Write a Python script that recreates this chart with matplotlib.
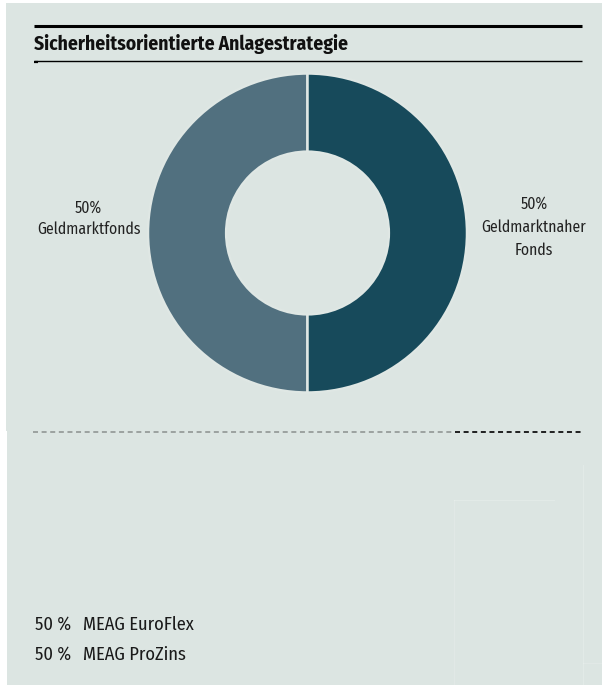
import matplotlib
matplotlib.use("Agg")
import matplotlib.pyplot as plt
from matplotlib.patches import Rectangle

# ---- data ----
title = "Sicherheitsorientierte Anlagestrategie"
categories = ["Geldmarktfonds", "Geldmarktnaher\nFonds"]
shares = [50, 50]
colors = ["#51707f", "#174a5b"]
funds = ["MEAG EuroFlex", "MEAG ProZins"]
fund_shares = [50, 50]

BG = "#dce5e2"
plt.rcParams["font.family"] = ["Fira Sans Condensed", "DejaVu Sans"]

W, H = 602, 685
fig = plt.figure(figsize=(W / 100, H / 100), dpi=100, facecolor="white")
renderer = fig.canvas.get_renderer()


def fit(t, target):
    """scale a text's font size so its rendered width matches target px"""
    w = t.get_window_extent(renderer).width
    t.set_fontsize(t.get_fontsize() * target / w)


ov = fig.add_axes([0, 0, 1, 1])
ov.set_xlim(0, W)
ov.set_ylim(H, 0)
ov.axis("off")

ov.add_patch(Rectangle((6, 3), W - 6, 428, facecolor=BG, edgecolor="none", zorder=0))
ov.add_patch(Rectangle((7, 431), W - 7, H - 431, facecolor=BG, edgecolor="none", zorder=0))

# faint artefact lines in lower panel
ov.plot([454, 554], [500, 500], color="white", lw=0.8, alpha=0.2, zorder=1)
ov.plot([454, 454], [500, 700], color="white", lw=0.8, alpha=0.15, zorder=1)
ov.plot([583, 583], [465, 700], color="white", lw=0.8, alpha=0.2, zorder=1)
ov.plot([583, 602], [663, 663], color="white", lw=0.8, alpha=0.15, zorder=1)

# header rules
ov.plot([34, 582], [26, 26], color="black", lw=2.2, solid_capstyle="butt", zorder=2)
ov.plot([34, 582], [60.5, 60.5], color="black", lw=1.0, solid_capstyle="butt", zorder=2)
ov.plot([34, 38], [61.5, 61.5], color="black", lw=1.6, solid_capstyle="butt", zorder=2)
tt = ov.text(34, 50, title, fontsize=13.5, fontweight="bold", color="#111111",
             ha="left", va="baseline", zorder=3)
fit(tt, 312)

# dashed separator (dash lengths in points, divided by linewidth)
lw1, lw2 = 1.1, 1.3
ov.plot([33, 453], [431.5, 431.5], color="#8a8f8e", lw=lw1,
        dashes=(3.6 / lw1, 2.6 / lw1), zorder=2)
ov.plot([455, 582], [431.5, 431.5], color="#111111", lw=lw2,
        dashes=(3.6 / lw2, 2.6 / lw2), zorder=2)

# donut
cx, cy, R = 307.5, 233, 159.5
pa = fig.add_axes([(cx - R) / W, (H - cy - R) / H, 2 * R / W, 2 * R / H])
pa.pie(shares, colors=colors, startangle=90, counterclock=True, radius=1,
       wedgeprops=dict(width=0.49, edgecolor="#dfe7e4", linewidth=1.8))
pa.set_xlim(-1, 1)
pa.set_ylim(-1, 1)
pa.axis("off")

# slice labels
l1 = ov.text(88.5, 218.5, f"{shares[0]}%\n{categories[0]}", fontsize=11, color="#222222",
             ha="center", va="center", linespacing=1.45, zorder=3)
fit(l1, 103)
l2 = ov.text(534, 227, f"{shares[1]}%\n{categories[1]}", fontsize=l1.get_fontsize(),
             color="#222222", ha="center", va="center", linespacing=1.55, zorder=3)

# fund list
for i, (s, f) in enumerate(zip(fund_shares, funds)):
    y = 625 + i * 30
    a = ov.text(35, y, f"{s} %", fontsize=12, color="#1a1a1a", ha="left", va="center", zorder=3)
    b = ov.text(83, y, f, fontsize=12, color="#1a1a1a", ha="left", va="center", zorder=3)
    if i == 0:
        fit(b, 111)
        fs = b.get_fontsize()
    a.set_fontsize(fs)
    b.set_fontsize(fs)

fig.savefig("out.png", dpi=100, facecolor="white")
